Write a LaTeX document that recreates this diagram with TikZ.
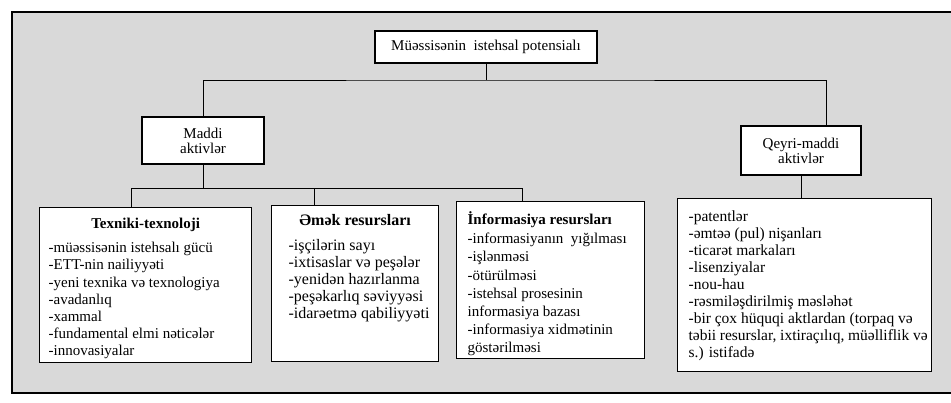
\documentclass[tikz,border=0pt]{standalone}
\usepackage{fontspec}
\setmainfont{Liberation Serif}
\usepackage{tikz}

\begin{document}
\begin{tikzpicture}[x=1pt, y=-1pt, line/.style={draw=black, line width=1pt}, box/.style={draw=black, line width=1.2pt, fill=white, align=center, inner sep=0, font=\fontsize{15}{15}\selectfont}, listbox/.style={draw=black, line width=1.2pt, fill=white, anchor=north west, inner xsep=4}, node font=\fontsize{15}{17.2}\selectfont]

\useasboundingbox (0,0) rectangle (951,402);
\fill[black!15] (12,12) rectangle (960,393);
\draw[line width=1.2pt] (12,12) rectangle (960,393);

\node[box, minimum width=222, minimum height=32] (boxTop)   at (486,47)    {Müəssisənin\ \ istehsal potensialı};
\node[box, minimum width=122, minimum height=47] (boxMaddi) at (203,140.5) {Maddi\\aktivlər};
\node[box, minimum width=120, minimum height=49] (boxQeyri) at (801,150.5) {Qeyri-maddi\\aktivlər};

\node[listbox, inner ysep=9] (boxTexniki) at (39,207) {\parbox[t][137pt][t]{204pt}{\raggedright\leftskip=5pt\strut
{\centering\textbf{Texniki-texnoloji}\par}\vspace{6.8pt}
-müəssisənin istehsalı gücü\\
-ETT-nin nailiyyəti\\
-yeni texnika və texnologiya\\
-avadanlıq\\
-xammal\\
-fundamental elmi nəticələr\\
-innovasiyalar}};

\node[listbox, inner ysep=8, font=\fontsize{16}{17.2}\selectfont] (boxEmek) at (271,205) {\parbox[t][140pt][t]{159pt}{\raggedright\leftskip=13pt\strut
{\centering\textbf{Əmək resursları}\par}\vspace{7.3pt}
-işçilərin sayı\\
-ixtisaslar və peşələr\\
-yenidən hazırlanma\\
-peşəkarlıq səviyyəsi\\
-idarəetmə qabiliyyəti}};

\node[listbox, inner ysep=10, font=\fontsize{15}{18.2}\selectfont] (boxInfo) at (456,201) {\parbox[t][137pt][t]{180pt}{\raggedright\leftskip=7pt\strut
\textbf{İnformasiya resursları}\par\vspace{1pt}
-informasiyanın\ \ yığılması\\
-işlənməsi\\
-ötürülməsi\\
-istehsal prosesinin\\
informasiya bazası\\
-informasiya xidmətinin\\
göstərilməsi}};

\node[listbox, inner ysep=11, font=\fontsize{15.5}{17}\selectfont] (boxPatent) at (677,198) {\parbox[t][151pt][t]{246pt}{\raggedright\leftskip=7pt\strut
-patentlər\\
-əmtəə (pul) nişanları\\
-ticarət markaları\\
-lisenziyalar\\
-nou-hau\\
-rəsmiləşdirilmiş məsləhət\\
-bir çox hüquqi aktlardan (torpaq və\\
təbii resurslar, ixtiraçılıq, müəlliflik və\\
s.) istifadə}};

\coordinate (busTop) at (486,80);
\coordinate (busLow) at (522,188);
\coordinate (qeyriTop) at ([xshift=25pt]boxQeyri.north);
\coordinate (texnikiTop) at ([xshift=-14pt]boxTexniki.north);
\coordinate (emekTop) at ([xshift=-41pt]boxEmek.north);

\draw[line] (boxTop) -- (busTop);
\draw[line] (boxMaddi.north) |- (busTop) -| (qeyriTop);
\draw[line] (boxMaddi) -- (boxMaddi.south |- busLow);
\draw[line] (texnikiTop) |- (busLow) -- (busLow |- boxInfo.north);
\draw[line] (emekTop) -- (emekTop |- busLow);
\draw[line] (boxQeyri) -- (boxQeyri |- boxPatent.north);
\end{tikzpicture}
\end{document}
